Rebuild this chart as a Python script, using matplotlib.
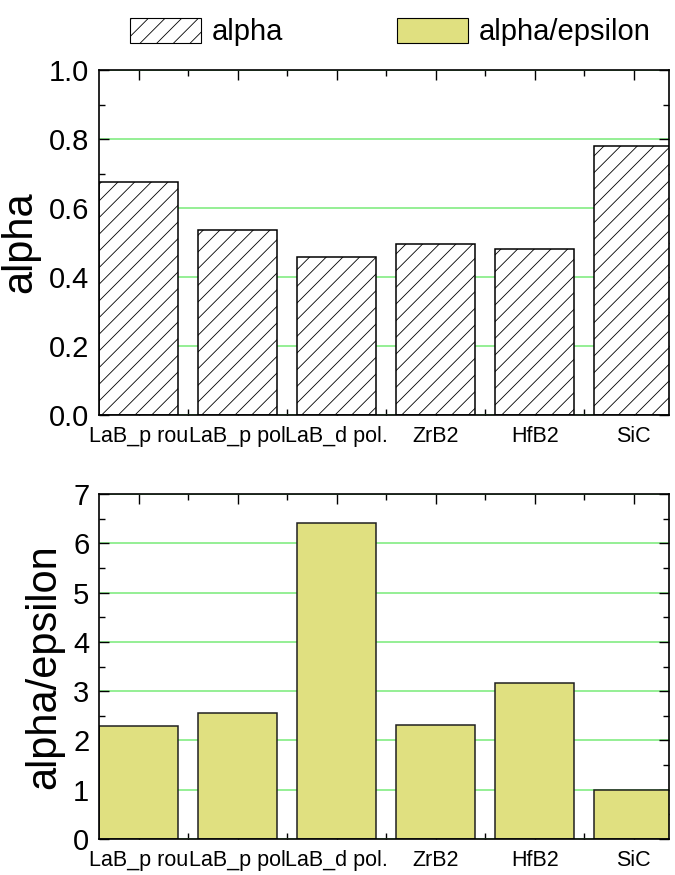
import numpy as np
import matplotlib
matplotlib.use("Agg")
import matplotlib.pyplot as plt
from matplotlib.ticker import MultipleLocator
from matplotlib.patches import Patch

plt.rcParams['font.family'] = ['Liberation Sans', 'DejaVu Sans']
plt.rcParams['hatch.linewidth'] = 0.6
plt.rcParams['hatch.color'] = '#404040'

# data
materials = ['LaB_p rou', 'LaB_p pol', 'LaB_d pol.', 'ZrB2', 'HfB2', 'SiC']
alpha = [0.676, 0.537, 0.457, 0.495, 0.482, 0.780]
alpha_eps = [2.29, 2.56, 6.41, 2.31, 3.16, 0.99]

x = np.arange(1, len(materials) + 1)
grid_green = '#8CEE8C'
fill_yellow = '#E0E080'

fig = plt.figure(figsize=(6.75, 8.75), dpi=100)
ax1 = fig.add_axes([0.1467, 0.5257, 0.8443, 0.3943])
ax2 = fig.add_axes([0.1467, 0.0411, 0.8443, 0.3943])


def style_axis(ax, ymax, major, minor, ylabel):
    ax.set_xlim(0.6, 6.355)
    ax.set_ylim(0, ymax)
    ax.set_xticks(x)
    ax.set_xticklabels(materials, fontsize=15.5)
    ax.set_xticks(x[:-1] + 0.5, minor=True)
    ax.yaxis.set_major_locator(MultipleLocator(major))
    ax.yaxis.set_minor_locator(MultipleLocator(minor))
    ax.tick_params(axis='both', which='both', direction='in',
                   top=True, right=True, width=1.0)
    ax.tick_params(axis='both', which='major', length=7)
    ax.tick_params(axis='both', which='minor', length=4)
    ax.tick_params(axis='y', labelsize=21, pad=7)
    ax.tick_params(axis='x', pad=8)
    ax.set_ylabel(ylabel, fontsize=30, labelpad=6)
    ax.yaxis.grid(True, which='major', color=grid_green, linewidth=1.3)
    ax.set_axisbelow(True)
    for s in ax.spines.values():
        s.set_linewidth(1.2)
        s.set_zorder(5)


ax1.bar(x, alpha, width=0.8, color='white', edgecolor='black',
        hatch='//', linewidth=1.1, zorder=2)
style_axis(ax1, 1.0, 0.2, 0.1, 'alpha')
ax1.set_yticks(np.arange(0, 1.01, 0.2))
ax1.set_yticklabels(['0.0', '0.2', '0.4', '0.6', '0.8', '1.0'])

ax2.bar(x, alpha_eps, width=0.8, color=fill_yellow, edgecolor='#202020',
        linewidth=1.1, zorder=2)
style_axis(ax2, 7, 1, 0.5, 'alpha/epsilon')

handles = [Patch(facecolor='white', edgecolor='black', hatch='//',
                 linewidth=0.8, label='alpha'),
           Patch(facecolor=fill_yellow, edgecolor='black', linewidth=0.8,
                 label='alpha/epsilon')]
fig.legend(handles=handles, loc='upper center', bbox_to_anchor=(0.578, 1.0),
           ncol=2, frameon=False, fontsize=21, handlelength=2.45,
           handleheight=0.95, handletextpad=0.35, columnspacing=3.9,
           borderaxespad=0.2)

fig.savefig('out.png', dpi=100)
